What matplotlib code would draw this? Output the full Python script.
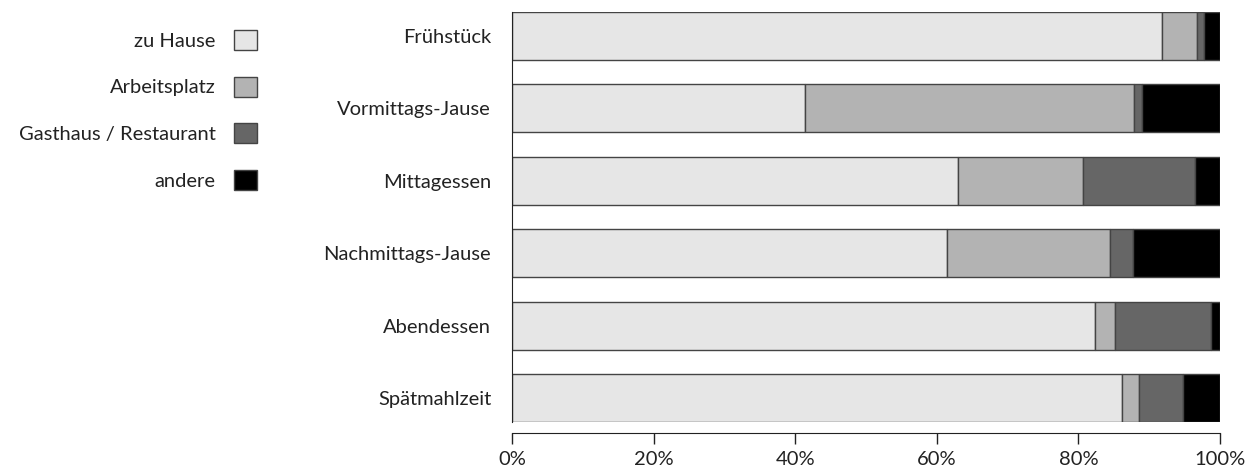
import matplotlib.pyplot as plt
import numpy as np

plt.rcParams['font.family'] = ['Lato', 'DejaVu Sans']

# data (percent)
meals = ['Frühstück', 'Vormittags-Jause', 'Mittagessen',
         'Nachmittags-Jause', 'Abendessen', 'Spätmahlzeit']
places = ['zu Hause', 'Arbeitsplatz', 'Gasthaus / Restaurant', 'andere']
zu_hause = [91.8, 41.4, 63.0, 61.5, 82.4, 86.1]
arbeitsplatz = [4.9, 46.4, 17.6, 22.9, 2.7, 2.4]
gasthaus = [1.1, 1.2, 15.8, 3.3, 13.6, 6.3]
andere = [2.2, 11.0, 3.6, 12.3, 1.3, 5.2]
ticks = [0, 20, 40, 60, 80, 100]

colors = ['#e6e6e6', '#b3b3b3', '#666666', '#000000']
fs = 14.5

fig = plt.figure(figsize=(12.57, 4.73), dpi=100)
ax = fig.add_axes([512/1257, 1 - 422/473, (1220-512)/1257, 410/473])

y = np.arange(len(meals))
left = np.zeros(len(meals))
handles = []
for vals, col, lab in zip([zu_hause, arbeitsplatz, gasthaus, andere], colors, places):
    b = ax.barh(y, vals, left=left, height=0.66, color=col,
                edgecolor='#444444', linewidth=1, label=lab)
    handles.append(b)
    left += np.array(vals)

for s in ['top', 'right']:
    ax.spines[s].set_visible(False)
ax.spines['bottom'].set_position(('outward', 8))
ax.spines['left'].set_color('#222222')
ax.spines['bottom'].set_color('#222222')

ax.set_ylim(len(meals) - 1 + 0.33, -0.33)
ax.set_xlim(0, 100)
ax.set_yticks(y)
ax.set_yticklabels(meals)
ax.tick_params(axis='y', length=0, pad=15, labelsize=fs, labelcolor='#222222')
ax.set_xticks(ticks)
ax.set_xticklabels([f'{t}%' for t in ticks])
ax.tick_params(axis='x', length=8, width=1, color='#222222', pad=5,
               labelsize=fs, labelcolor='#222222')

leg = fig.legend(handles=handles, labels=places, markerfirst=False, frameon=False,
                 loc='upper right', bbox_to_anchor=(257/1257, 1 - 30/473),
                 fontsize=fs, handlelength=1.15, handleheight=1.15,
                 labelspacing=1.32, handletextpad=0.9, borderaxespad=0, borderpad=0)
for t in leg.get_texts():
    t.set_color('#222222')

fig.savefig('out.png', dpi=100)
